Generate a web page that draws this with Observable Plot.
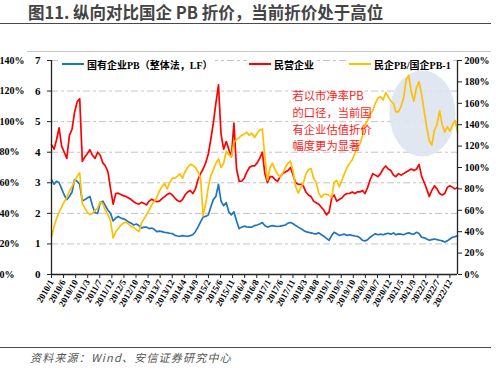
<!DOCTYPE html>
<html><head><meta charset="utf-8">
<script src="https://cdn.jsdelivr.net/npm/d3@7"></script>
<script src="https://cdn.jsdelivr.net/npm/@observablehq/plot@0.6"></script>
<style>
body{margin:0;background:#fff;}
#wrap{position:relative;width:496px;height:375px;overflow:hidden;background:#fff;}
#title{position:absolute;left:28px;top:1px;font-family:"Noto Sans CJK SC",sans-serif;font-weight:bold;font-size:16.5px;color:#444;white-space:nowrap;line-height:22px;}
.rule{position:absolute;left:0;height:0;}
#chart{position:absolute;left:0;top:40px;}
.item{position:absolute;top:57px;height:14px;background:#fff;display:flex;align-items:center;font-family:"Liberation Serif","Noto Sans CJK SC",serif;font-weight:bold;font-size:10px;color:#000;white-space:nowrap;}
.sw{display:inline-block;width:22px;height:2.5px;margin-right:3px;}
#source{position:absolute;left:30px;top:349px;font-family:"Noto Sans CJK SC",sans-serif;font-style:italic;font-size:11px;letter-spacing:1.2px;color:#555;white-space:nowrap;line-height:16px;}
</style></head>
<body>
<div id="wrap">
  <div id="title">图11. 纵向对比国企 PB 折价，当前折价处于高位</div>
  <div class="rule" style="top:23px;width:491px;border-top:1.5px solid #4a4a4a"></div>
  <div class="rule" style="top:51px;left:27px;width:464px;border-top:1px solid #c8c8c8"></div>
  <div id="chart"></div>
  <div id="legend"></div>
  <div class="rule" style="top:347px;width:491px;border-top:1.5px solid #4a4a4a"></div>
  <div id="source">资料来源：Wind、安信证券研究中心</div>
</div>
<script>
// ---- data (monthly, 2010/1 ... 2023/3) ----
const seriesNames = ["国有企业PB（整体法，LF）", "民营企业", "民企PB/国企PB-1"];
const seriesColors = ["#1f74c2", "#ff0000", "#ffc000"];

const soePB = [
  3.10,2.95,3.05,3.00,2.80,2.60,2.45,2.55,2.70,3.10,3.05,2.95,
  2.40,2.45,2.50,2.55,2.25,2.02,2.00,2.35,2.40,2.25,2.10,2.00,
  1.75,1.85,1.90,1.85,1.82,1.78,1.72,1.68,1.62,1.65,1.60,1.52,
  1.55,1.55,1.50,1.52,1.48,1.40,1.42,1.40,1.38,1.37,1.35,1.34,
  1.28,1.26,1.25,1.27,1.26,1.25,1.27,1.30,1.40,1.55,1.72,1.88,
  1.90,1.95,2.20,2.45,2.55,2.95,2.40,2.25,2.35,2.05,1.95,2.05,
  1.75,1.50,1.55,1.58,1.56,1.55,1.55,1.60,1.62,1.65,1.70,1.60,
  1.55,1.58,1.60,1.58,1.57,1.58,1.60,1.62,1.68,1.70,1.66,1.60,
  1.55,1.50,1.45,1.40,1.38,1.36,1.34,1.33,1.36,1.30,1.25,1.18,
  1.12,1.28,1.38,1.33,1.28,1.30,1.32,1.28,1.30,1.28,1.26,1.25,
  1.20,1.12,1.10,1.14,1.22,1.28,1.33,1.30,1.32,1.30,1.33,1.35,
  1.32,1.36,1.30,1.33,1.32,1.30,1.34,1.36,1.33,1.32,1.38,1.34,
  1.22,1.20,1.16,1.12,1.14,1.16,1.14,1.12,1.10,1.06,1.10,1.16,
  1.22,1.24,1.27
];
const privatePB = [
  4.25,4.10,4.40,4.80,4.20,4.00,3.80,4.55,4.75,5.30,5.65,5.75,
  3.70,3.85,3.95,4.08,3.90,3.80,4.00,3.90,3.65,3.55,3.35,2.80,
  2.30,2.65,2.66,2.62,2.58,2.55,2.50,2.45,2.38,2.33,2.30,2.36,
  2.32,2.28,2.40,2.46,2.42,2.38,2.40,2.48,2.55,2.62,2.66,2.60,
  2.50,2.42,2.38,2.45,2.60,2.70,2.75,2.65,2.80,3.10,3.30,3.45,
  3.65,3.95,4.40,4.95,5.60,6.20,4.60,4.10,4.35,4.10,3.85,4.95,
  3.45,3.05,3.05,3.15,3.35,3.50,3.55,3.55,3.65,3.80,4.00,3.30,
  3.00,3.20,3.20,3.10,3.05,3.20,3.30,3.35,3.40,3.50,3.25,3.00,
  2.95,2.95,2.90,2.70,2.60,2.55,2.40,2.35,2.30,2.20,2.10,1.95,
  2.05,2.50,2.60,2.40,2.45,2.50,2.60,2.65,2.65,2.70,2.65,2.70,
  2.70,2.75,2.65,2.85,3.10,3.30,3.25,3.20,3.30,3.45,3.55,3.45,
  3.40,3.25,3.20,3.30,3.25,3.30,3.35,3.40,3.45,3.40,3.45,3.60,
  3.20,3.00,2.80,2.55,2.75,2.90,2.80,2.65,2.60,2.65,2.85,2.90,
  2.85,2.80,2.85
];
const ratioPct = [
  35,45,52,58,63,68,72,78,82,87,92,95,
  66,62,58,56,57,60,62,68,66,60,56,50,
  34,40,43,46,48,49,47,45,44,42,40,48,
  52,56,60,65,68,72,78,82,85,80,86,90,
  90,92,94,90,96,100,103,102,100,96,90,55,
  66,82,92,98,104,108,100,104,115,112,110,124,
  126,128,130,131,133,130,132,128,132,135,136,110,
  88,100,104,98,94,91,95,100,104,106,96,82,
  76,82,85,94,98,99,90,86,76,72,75,75,
  74,72,86,88,82,88,94,100,104,107,113,120,
  122,130,140,144,150,153,160,165,166,163,170,166,
  162,160,152,152,157,165,182,186,170,162,175,180,
  168,152,138,125,121,135,140,153,140,133,138,134,
  140,144,133
];
const xLabels = ["2010/1","2010/6","2010/10","2011/3","2011/7","2011/12","2012/5","2012/10","2013/3","2013/7","2013/12","2014/4","2014/9","2015/2","2015/6","2015/11","2016/4","2016/8","2017/1","2017/6","2017/11","2018/3","2018/8","2019/1","2019/5","2019/10","2020/3","2020/7","2020/12","2021/5","2021/9","2022/2","2022/7","2022/12"];
const leftTicks = [0,1,2,3,4,5,6,7];
const leftPctTicks = [0,20,40,60,80,100,120,140];
const rightPctTicks = [0,20,40,60,80,100,120,140,160,180,200];
const annotation = ["若以市净率PB","的口径，当前国","有企业估值折价","幅度更为显著"];
const sourceText = "资料来源：Wind、安信证券研究中心";

// ---- build ----
const months = soePB.map((_, i) => new Date(Date.UTC(2010, i, 1)));
const rows = months.map((d, i) => ({date: d, soe: soePB[i], pri: privatePB[i], ratio: ratioPct[i]}));
const k = 7 / 200; // right axis (0-200%) onto left scale (0-7)
const kl = 7 / 140; // outer left axis (0-140%)
const parseLabel = s => { const [y, m] = s.split("/").map(Number); return Date.UTC(y, m - 1, 1); };
const t0 = parseLabel(xLabels[0]), t1 = parseLabel(xLabels[xLabels.length - 1]);
const tickDates = xLabels.map((_, i) => new Date(t0 + i * (t1 - t0) / (xLabels.length - 1)));
const labelOf = new Map(tickDates.map((d, i) => [+d, xLabels[i]]));
const xStart = months[0], xEnd = months[months.length - 1];

const chart = Plot.plot({
  width: 496, height: 300,
  marginTop: 20, marginRight: 39, marginBottom: 66, marginLeft: 51,
  x: {type: "utc", domain: [xStart, xEnd]},
  y: {domain: [0, 7]},
  style: {fontFamily: "'Liberation Serif', serif", fontWeight: "bold", fontSize: "10px", color: "#000", background: "transparent", overflow: "visible"},
  marks: [
    Plot.ruleY(leftTicks.slice(1), {stroke: "#c4c4c4", strokeWidth: 1, strokeDasharray: "7,3,3,3"}),
    Plot.lineY(rows, {x: "date", y: "soe", stroke: seriesColors[0], strokeWidth: 1.7}),
    Plot.lineY(rows, {x: "date", y: "pri", stroke: seriesColors[1], strokeWidth: 1.7}),
    Plot.lineY(rows, {x: "date", y: d => d.ratio * k, stroke: seriesColors[2], strokeWidth: 1.7}),
    Plot.text([annotation.join("\n")], {text: d => d, frameAnchor: "top-left", lineAnchor: "top", textAnchor: "start", dx: 241, dy: 28, fill: "#ff1a1a", fontSize: 11.3, lineHeight: 1.47, fontWeight: "normal", fontFamily: "'Noto Sans CJK SC', sans-serif", ariaLabel: "annotation"}),
    Plot.ruleX([xStart, xEnd], {stroke: "#222", strokeWidth: 1.3}),
    Plot.ruleY([0], {stroke: "#222", strokeWidth: 1.3}),
    Plot.axisY(leftTicks, {anchor: "left", tickSize: 4, tickPadding: 7, fontSize: 11, label: null, stroke: "#222"}),
    Plot.axisY(leftPctTicks.map(v => v * kl), {anchor: "left", tickSize: 0, tickPadding: 52, textAnchor: "start", fontSize: 10, label: null, tickFormat: v => Math.round(v / kl) + "%"}),
    Plot.axisY(rightPctTicks.map(v => v * k), {anchor: "right", tickSize: 4, tickPadding: 3, fontSize: 10, label: null, stroke: "#222", tickFormat: v => Math.round(v / k) + "%"}),
    Plot.axisX(tickDates, {anchor: "bottom", tickSize: 4, tickPadding: 2, tickRotate: -60, fontSize: 9, label: null, stroke: "#222", tickFormat: d => labelOf.get(+d)})
  ]
});
document.getElementById("chart").append(chart);

// highlight ellipse behind the lines
const highlight = {date: new Date(Date.UTC(2022, 0, 15)), value: 5.25, rx: 33, ry: 43};
const xs = chart.scale("x"), ys = chart.scale("y");
const ns = "http://www.w3.org/2000/svg";
const firstLine = chart.querySelector('g[aria-label="line"]');
const ell = document.createElementNS(ns, "ellipse");
ell.setAttribute("cx", xs.apply(highlight.date));
ell.setAttribute("cy", ys.apply(highlight.value));
ell.setAttribute("rx", highlight.rx);
ell.setAttribute("ry", highlight.ry);
ell.setAttribute("fill", "#dde4ee");
ell.setAttribute("fill-opacity", "0.9");
firstLine.parentNode.insertBefore(ell, firstLine);

// annotation: letter spacing + white box behind it
const ann = chart.querySelector('g[aria-label="annotation"]');
if (ann) {
  ann.setAttribute("letter-spacing", "1.1");
  const bb = ann.getBBox();
  const r = document.createElementNS(ns, "rect");
  r.setAttribute("x", bb.x - 1); r.setAttribute("y", bb.y + 2);
  r.setAttribute("width", bb.width + 2); r.setAttribute("height", bb.height - 4);
  r.setAttribute("fill", "#fff");
  ann.parentNode.insertBefore(r, ann);
}

// legend
const legendLeft = [60, 247, 347];
const legend = document.getElementById("legend");
seriesNames.forEach((name, i) => {
  const item = document.createElement("div");
  item.className = "item";
  item.style.left = legendLeft[i] + "px";
  item.style.padding = "0 2px";
  const sw = document.createElement("span");
  sw.className = "sw";
  sw.style.background = seriesColors[i];
  const tx = document.createElement("span");
  tx.textContent = name;
  item.append(sw, tx);
  legend.append(item);
});
document.getElementById("source").textContent = sourceText;
</script>
</body></html>
